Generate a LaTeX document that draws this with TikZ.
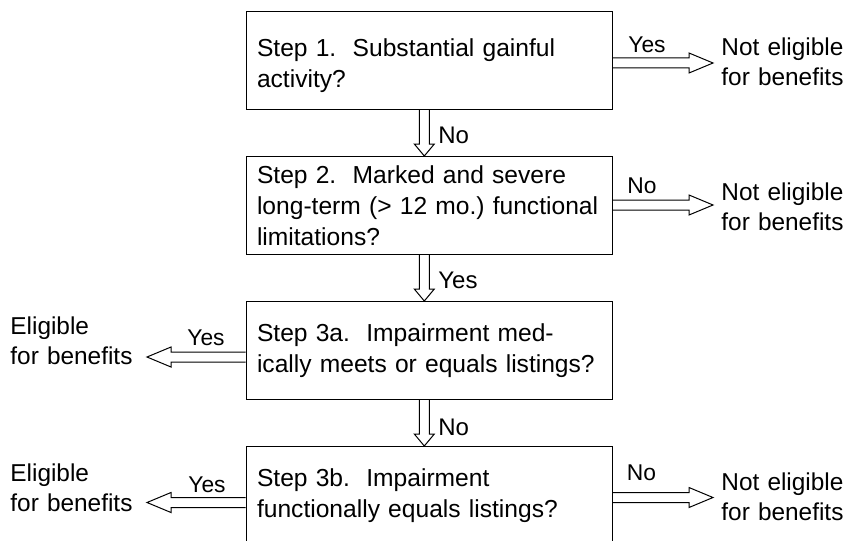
\documentclass[tikz,border=0pt]{standalone}
\usepackage{fontspec}
\setmainfont{Liberation Sans}
\usetikzlibrary{positioning,calc}
\frenchspacing
\hyphenpenalty=10000
\tikzset{
  stepbox/.style={draw, line width=0.5pt, minimum width=183pt, minimum height=49pt,
    text width=172pt, inner xsep=5.5pt, inner ysep=0pt, align=left,
    font=\fontsize{12.3pt}{15.5pt}\selectfont},
  outcome/.style={inner sep=0pt, text width=64pt, align=left, anchor=base west,
    font=\fontsize{12.2pt}{15pt}\selectfont},
  answer/.style={inner sep=0pt, anchor=base, font=\fontsize{11.4pt}{13pt}\selectfont},
  hollow right/.style={line width=0.5pt, to path={let \p1=(\tikztostart), \p2=(\tikztotarget) in
    (\x1,\y2+2.5pt) -- (\x2-12pt,\y2+2.5pt) -- (\x2-12pt,\y2+5pt) -- (\x2,\y2)
    -- (\x2-12pt,\y2-5pt) -- (\x2-12pt,\y2-2.5pt) -- (\x1,\y2-2.5pt)}},
  hollow left/.style={line width=0.5pt, to path={let \p1=(\tikztostart), \p2=(\tikztotarget) in
    (\x1,\y2+2.5pt) -- (\x2+12pt,\y2+2.5pt) -- (\x2+12pt,\y2+5pt) -- (\x2,\y2)
    -- (\x2+12pt,\y2-5pt) -- (\x2+12pt,\y2-2.5pt) -- (\x1,\y2-2.5pt)}},
  hollow down/.style={line width=0.5pt, to path={let \p1=(\tikztostart), \p2=(\tikztotarget) in
    (\x2-2.5pt,\y1) -- (\x2-2.5pt,\y2+6pt) -- (\x2-5pt,\y2+6pt) -- (\x2,\y2)
    -- (\x2+5pt,\y2+6pt) -- (\x2+2.5pt,\y2+6pt) -- (\x2+2.5pt,\y1)}}
}
\begin{document}
\begin{tikzpicture}[x=0.5pt,y=-0.5pt]
    \useasboundingbox (0,0) rectangle (849,540);
    \node[stepbox, text depth=13pt] (s1) at (429,60.5) {Step 1.\ \ Substantial gainful\\activity?};
    \node[stepbox, below=23pt of s1] (s2) {Step 2.\ \ Marked and severe\\long-term (> 12 mo.) functional\\limitations?};
    \node[stepbox, below=23pt of s2] (s3a) {Step 3a.\ \ Impairment med-\\ically meets or equals listings?};
    \node[stepbox, below=23pt of s3a] (s3b) {Step 3b.\ \ Impairment\\functionally equals listings?};
    \node[outcome] (n1) at (721,55) {Not eligible\\for benefits};
    \node[outcome] (n2) at (721,200) {Not eligible\\for benefits};
    \node[outcome] (n3) at (721,490) {Not eligible\\for benefits};
    \node[outcome] (e1) at (10,334) {Eligible\\for benefits};
    \node[outcome] (e2) at (10,481) {Eligible\\for benefits};
    \coordinate (t1) at (713,63);
    \coordinate (t2) at (713,205);
    \coordinate (t3) at (713,497.5);
    \coordinate (t4) at (147,357);
    \coordinate (t5) at (147,502.5);
    \draw[hollow right] (s1.east) to (t1);
    \draw[hollow right] (s2.east) to (t2);
    \draw[hollow right] (s3b.east) to (t3);
    \draw[hollow left] (s3a.west) to (t4);
    \draw[hollow left] (s3b.west) to (t5);
    \draw[hollow down] (s1.south) to ([xshift=-2.35pt]s2.north);
    \draw[hollow down] (s2.south) to ([xshift=-2.35pt]s3a.north);
    \draw[hollow down] (s3a.south) to ([xshift=-2.35pt]s3b.north);
    \node[answer] (a1) at (647,53) {Yes};
    \node[answer] (a2) at (642,193) {No};
    \node[answer] (a3) at (641.5,480) {No};
    \node[answer] (a4) at (206,345) {Yes};
    \node[answer] (a5) at (207,492) {Yes};
    \node[answer, anchor=base west, font=\fontsize{12pt}{14pt}\selectfont] (a6) at (438,143) {No};
    \node[answer, anchor=base west, font=\fontsize{12pt}{14pt}\selectfont] (a7) at (438,288) {Yes};
    \node[answer, anchor=base west, font=\fontsize{12pt}{14pt}\selectfont] (a8) at (438,435) {No};
\end{tikzpicture}
\end{document}
